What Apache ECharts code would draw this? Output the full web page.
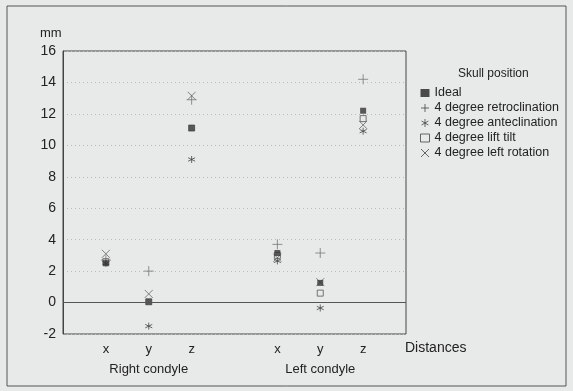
<!DOCTYPE html>
<html><head><meta charset="utf-8">
<script src="https://cdn.jsdelivr.net/npm/echarts@6/dist/echarts.min.js"></script>
<style>html,body{margin:0;padding:0;background:#e8eaea}#c{width:573px;height:391px}</style>
</head><body><div id="c"></div>
<script>
// category positions on the distance axis (gap between condyles at 4)
var positions = [1, 2, 3, 5, 6, 7];
var tickLabels = ['x', 'y', 'z', 'x', 'y', 'z'];
var groupLabels = ['Right condyle', 'Left condyle'];
var groupCenters = [2, 6];
var seriesNames = ['Ideal', '4 degree retroclination', '4 degree anteclination', '4 degree lift tilt', '4 degree left rotation'];
var ideal        = [2.5, 0.05, 11.1, 3.15, 1.25, 12.2];
var retroclin    = [2.7, 2.0, 12.9, 3.7, 3.15, 14.2];
var anteclin     = [2.5, -1.5, 9.1, 2.65, -0.35, 10.9];
var liftTilt     = [2.6, 0.05, 11.1, 3.0, 0.6, 11.7];
var leftRotation = [3.1, 0.55, 13.15, 2.85, 1.3, 11.3];
var yTicks = [-2, 0, 2, 4, 6, 8, 10, 12, 14, 16];

var symbols = [
  'rect',
  'path://M5 0V10M0 5H10',
  'path://M5 0V10M0.7 2.5L9.3 7.5M0.7 7.5L9.3 2.5',
  'rect',
  'path://M0 0L10 10M10 0L0 10'
];
var sizes = [6, 10, 7, 6, 8];
var styles = [
  {color: '#333', borderColor: '#333', borderWidth: 0},
  {color: 'none', borderColor: '#777', borderWidth: 1},
  {color: 'none', borderColor: '#444', borderWidth: 1},
  {color: 'none', borderColor: '#555', borderWidth: 1},
  {color: 'none', borderColor: '#666', borderWidth: 1}
];
var values = [ideal, retroclin, anteclin, liftTilt, leftRotation];

function pairs(v) { return positions.map(function (p, i) { return [p, v[i]]; }); }

var series = seriesNames.map(function (n, k) {
  return {
    name: n, type: 'scatter', data: pairs(values[k]),
    symbol: symbols[k], symbolSize: sizes[k], itemStyle: styles[k],
    z: k === 0 ? 3 : 2, silent: true
  };
});
series[0].markLine = {
  silent: true, symbol: 'none', label: {show: false},
  lineStyle: {color: '#555', type: 'solid', width: 1},
  data: [{yAxis: 0}]
};

var FF = 'Liberation Sans';
var chart = echarts.init(document.getElementById('c'), null, {renderer: 'canvas'});
chart.setOption({
  animation: false,
  backgroundColor: '#e8eaea',
  grid: {left: 63, right: 167, top: 51, bottom: 57, show: true, borderColor: '#444', borderWidth: 1, backgroundColor: 'transparent'},
  xAxis: [{
    type: 'value', min: 0, max: 8, interval: 1,
    axisLine: {show: false}, axisTick: {show: false}, splitLine: {show: false},
    axisLabel: {margin: 9, fontSize: 13, color: '#222', fontFamily: FF,
      formatter: function (v) { var i = positions.indexOf(v); return i >= 0 ? tickLabels[i] : ''; }}
  }, {
    type: 'value', min: 0, max: 8, interval: 1, position: 'bottom', offset: 20,
    axisLine: {show: false}, axisTick: {show: false}, splitLine: {show: false},
    axisLabel: {margin: 9, fontSize: 13, color: '#222', fontFamily: FF,
      formatter: function (v) { var i = groupCenters.indexOf(v); return i >= 0 ? groupLabels[i] : ''; }}
  }],
  yAxis: {
    type: 'value', min: yTicks[0], max: yTicks[yTicks.length - 1], interval: 2,
    axisLine: {show: true, lineStyle: {color: '#444'}}, axisTick: {show: false},
    axisLabel: {fontSize: 14, color: '#222', margin: 7, fontFamily: FF},
    splitLine: {show: true, lineStyle: {color: '#bbb', type: [1, 3], width: 1}}
  },
  legend: {
    orient: 'vertical', left: 413, top: 81, itemWidth: 9, itemHeight: 8, itemGap: 1,
    textStyle: {fontSize: 12.5, lineHeight: 14, color: '#222', fontFamily: FF},
    data: seriesNames.map(function (n, k) {
      return {name: n, icon: symbols[k], itemStyle: k === 0 ? {color: '#222'} : {color: 'none', borderColor: '#444', borderWidth: 1}};
    })
  },
  graphic: [
    {type: 'rect', shape: {x: 7, y: 6, width: 559, height: 380}, style: {fill: 'none', stroke: '#555', lineWidth: 1}, silent: true},
    {type: 'text', left: 40, top: 27, style: {text: 'mm', fontSize: 13, fill: '#222', fontFamily: FF}},
    {type: 'text', left: 458, top: 68, style: {text: 'Skull position', fontSize: 12, fill: '#222', fontFamily: FF}},
    {type: 'text', left: 405, top: 341, style: {text: 'Distances', fontSize: 14, fill: '#222', fontFamily: FF}}
  ],
  series: series
});
</script></body></html>
